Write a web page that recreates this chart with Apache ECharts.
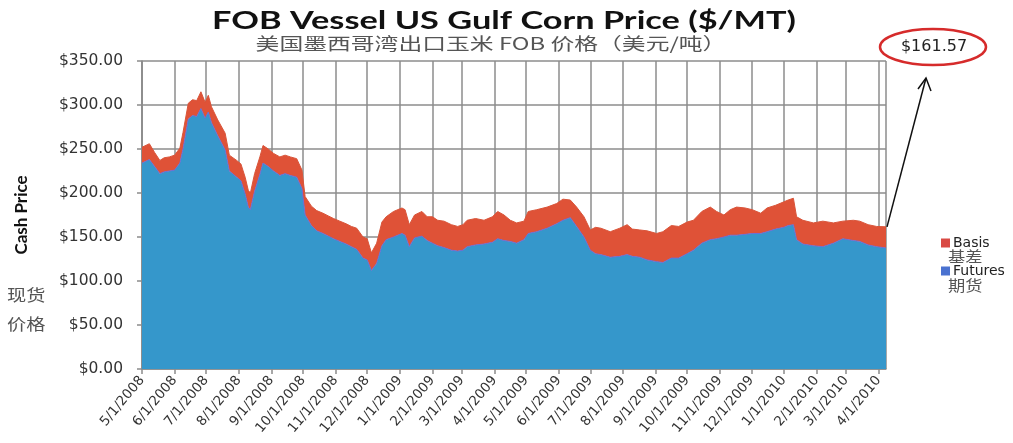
<!DOCTYPE html>
<html><head><meta charset="utf-8">
<script src="https://cdn.jsdelivr.net/npm/echarts@6/dist/echarts.min.js"></script>
<style>html,body{margin:0;padding:0;background:#fff}#c{width:1013px;height:443px}</style>
</head><body><div id="c"></div>
<script>
const dates = ['2008-05-01','2008-05-08','2008-05-13','2008-05-18','2008-05-22','2008-05-27','2008-06-01','2008-06-06','2008-06-09','2008-06-14','2008-06-18','2008-06-22','2008-06-26','2008-06-30','2008-07-03','2008-07-06','2008-07-12','2008-07-19','2008-07-23','2008-07-30','2008-08-03','2008-08-07','2008-08-10','2008-08-12','2008-08-16','2008-08-21','2008-08-24','2008-08-29','2008-09-03','2008-09-09','2008-09-14','2008-09-19','2008-09-25','2008-09-30','2008-10-03','2008-10-09','2008-10-14','2008-10-20','2008-10-25','2008-10-30','2008-11-05','2008-11-11','2008-11-16','2008-11-21','2008-11-27','2008-12-01','2008-12-05','2008-12-10','2008-12-15','2008-12-19','2008-12-26','2009-01-03','2009-01-06','2009-01-10','2009-01-15','2009-01-22','2009-01-27','2009-02-01','2009-02-06','2009-02-12','2009-02-19','2009-02-25','2009-03-02','2009-03-06','2009-03-14','2009-03-22','2009-03-30','2009-04-04','2009-04-10','2009-04-16','2009-04-22','2009-04-29','2009-05-03','2009-05-11','2009-05-21','2009-05-30','2009-06-05','2009-06-12','2009-06-18','2009-06-25','2009-07-01','2009-07-06','2009-07-11','2009-07-20','2009-07-29','2009-08-05','2009-08-10','2009-08-17','2009-08-24','2009-09-02','2009-09-08','2009-09-16','2009-09-23','2009-10-01','2009-10-07','2009-10-15','2009-10-23','2009-10-29','2009-11-05','2009-11-11','2009-11-17','2009-11-25','2009-12-02','2009-12-10','2009-12-16','2009-12-24','2010-01-01','2010-01-05','2010-01-10','2010-01-13','2010-01-19','2010-01-29','2010-02-07','2010-02-17','2010-02-26','2010-03-08','2010-03-14','2010-03-22','2010-03-30','2010-04-08'];
const futures = [234,238,230,222,224,225,226,234,250,284,288,287,296,285,292,280,265,249,225,218,214,199,184,181,202,221,234,230,225,220,222,220,218,205,175,163,157,154,151,148,145,142,139,136,126,124,112,120,140,147,150,154,152,139,149,151,146,143,140,138,135,134,135,139,141,142,144,148,146,145,143,147,154,156,160,165,169,172,162,150,135,131,130,127,128,130,128,127,124,122,121,126,126,131,135,143,147,148,150,152,152,153,154,154,156,159,161,163,164,147,142,140,139,143,148,146,145,141,139,137.50];
const basis = [18,18,16,15,16,16,17,17,19,18,18,18,19,18,19,18,18,19,18,19,19,19,19,19,20,20,20,20,20,21,21,21,21,21,21,22,23,23,23,23,23,23,23,24,24,24,20,23,27,26,29,29,29,25,26,28,27,30,29,30,29,28,29,30,30,27,29,31,29,24,23,21,25,25,24,23,24,20,22,23,23,30,30,29,32,34,31,31,33,32,35,37,36,36,34,36,37,31,25,29,32,30,27,23,27,27,29,29,30,26,27,26,29,23,20,23,23,23,23,24.07];
const yTicks = [0,50,100,150,200,250,300,350];

const chart = echarts.init(document.getElementById('c'), null, {renderer:'canvas'});
const fmtDate = v => { const d = new Date(v); return (d.getMonth()+1)+'/'+d.getDate()+'/'+d.getFullYear(); };
const lastTotal = futures[futures.length-1] + basis[basis.length-1];
const gridColor = '#8c8c8c';
const option = {
  animation:false,
  backgroundColor:'#fff',
  legend:{
    orient:'vertical', left:936, top:231, itemGap:14, itemWidth:9, itemHeight:9,
    icon:'rect', data:['Basis','Futures'],
    textStyle:{fontFamily:'DejaVu Sans',fontSize:14,color:'#222',padding:[0,0,0,-2]}
  },
  grid:{left:142,right:127,top:61,bottom:74,containLabel:false},
  xAxis:{
    type:'time',
    min:dates[0], max:dates[dates.length-1],
    minInterval:31*86400000, maxInterval:31*86400000,
    axisLine:{lineStyle:{color:gridColor,width:1.5}},
    axisTick:{show:true,length:5,lineStyle:{color:gridColor,width:1.5}},
    splitLine:{show:true,lineStyle:{color:gridColor,width:1.5}},
    axisLabel:{rotate:50,formatter:fmtDate,showMaxLabel:false,showMinLabel:true,
      fontFamily:'DejaVu Sans',fontSize:13.5,color:'#333',margin:9,hideOverlap:false}
  },
  yAxis:{
    type:'value', min:yTicks[0], max:yTicks[yTicks.length-1], interval:50,
    name:'Cash Price', nameLocation:'middle', nameRotate:90, nameGap:112,
    nameTextStyle:{fontFamily:'Lato',fontWeight:'bold',fontSize:17,color:'#111'},
    axisLine:{show:true,lineStyle:{color:gridColor,width:1.5}},
    axisTick:{show:true,length:5,lineStyle:{color:gridColor,width:1.5}},
    splitLine:{show:true,lineStyle:{color:gridColor,width:1.5}},
    axisLabel:{formatter:v=>'$'+v.toFixed(2),fontFamily:'DejaVu Sans',fontSize:15.5,color:'#333',margin:19}
  },
  series:[
    {name:'Futures',type:'line',stack:'cash',showSymbol:false,symbol:'none',
     lineStyle:{width:1,color:'#6b6fd6'},itemStyle:{color:'#4a72d0'},
     areaStyle:{color:'#3597cb',opacity:1},
     data:dates.map((d,i)=>[d,futures[i]])},
    {name:'Basis',type:'line',stack:'cash',showSymbol:false,symbol:'none',
     lineStyle:{width:1,color:'#d9553a'},itemStyle:{color:'#d94a44'},
     areaStyle:{color:'#df5237',opacity:1},
     data:dates.map((d,i)=>[d,basis[i]])}
  ]
};
chart.setOption(option);
const endPt = chart.convertToPixel({gridIndex:0},[dates[dates.length-1], lastTotal]);
chart.setOption({graphic:[
  {type:'text',x:504,y:21,scaleX:1.4,style:{text:'FOB Vessel US Gulf Corn Price ($/MT)',align:'center',verticalAlign:'middle',fontFamily:'Lato',fontWeight:'bold',fontSize:24.5,fill:'#111'}},
  {type:'text',x:491,y:44,scaleX:1.4,style:{text:'美国墨西哥湾出口玉米 FOB 价格（美元/吨）',align:'center',verticalAlign:'middle',fontFamily:'Noto Sans CJK SC',fontSize:17,fill:'#555'}},
  {type:'text',x:7,y:295,scaleX:1.2,style:{text:'现货',verticalAlign:'middle',fontFamily:'Noto Sans CJK SC',fontSize:16,fill:'#555'}},
  {type:'text',x:7,y:324,scaleX:1.2,style:{text:'价格',verticalAlign:'middle',fontFamily:'Noto Sans CJK SC',fontSize:16,fill:'#555'}},
  {type:'text',x:948,y:256,scaleX:1.15,style:{text:'基差',verticalAlign:'middle',fontFamily:'Noto Sans CJK SC',fontSize:15,fill:'#555'}},
  {type:'text',x:948,y:285,scaleX:1.15,style:{text:'期货',verticalAlign:'middle',fontFamily:'Noto Sans CJK SC',fontSize:15,fill:'#555'}},
  {type:'ellipse',shape:{cx:933,cy:47,rx:53,ry:18},style:{fill:'none',stroke:'#d62b2b',lineWidth:2.5}},
  {type:'text',x:934,y:47,style:{text:'$'+lastTotal.toFixed(2),align:'center',verticalAlign:'middle',fontFamily:'DejaVu Sans',fontSize:16,fill:'#222'}},
  {type:'line',shape:{x1:endPt[0]+1,y1:endPt[1],x2:926,y2:78},style:{stroke:'#111',lineWidth:1.5}},
  {type:'polyline',shape:{points:[[918,89],[926,78],[931,91]]},style:{stroke:'#111',lineWidth:1.5,fill:'none'}}
]});
</script></body></html>
